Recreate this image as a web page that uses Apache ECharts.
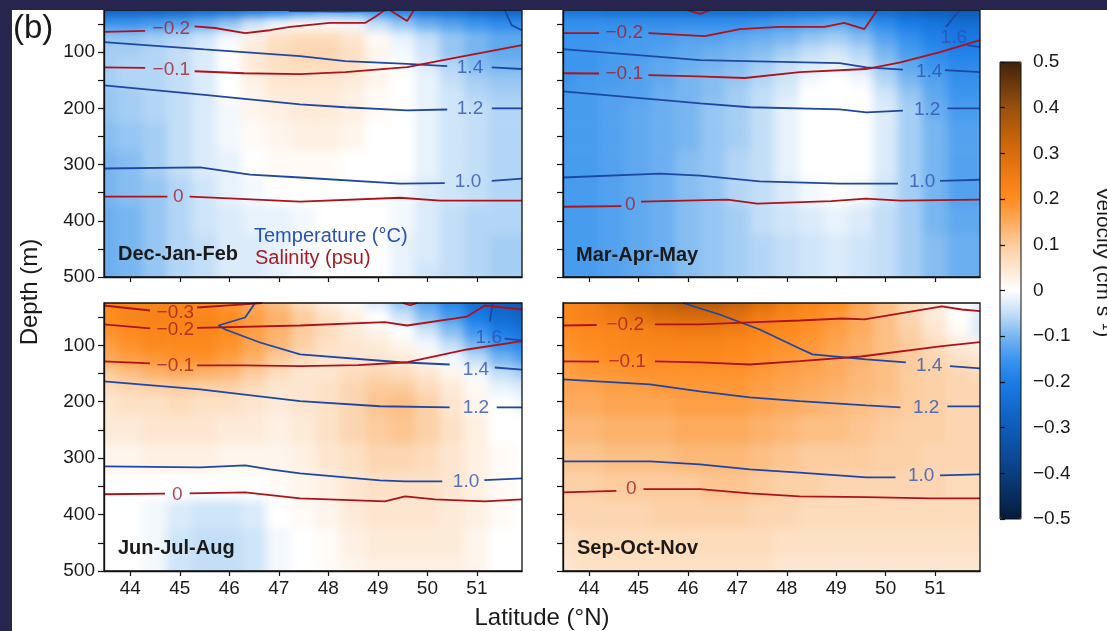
<!DOCTYPE html>
<html lang="en">
<head>
<meta charset="UTF-8">
<script src="https://cdn.jsdelivr.net/npm/echarts@6/dist/echarts.min.js"></script>
<title>Velocity sections</title>
<style>
  html, body { margin: 0; padding: 0; background: #fff; }
  #main { width: 1107px; height: 631px; }
</style>
</head>
<body>
<div id="main"></div>
<script>
  // grid of the velocity field (cell centres)
  const lats = [43.5, 44, 44.5, 45, 45.5, 46, 46.5, 47, 47.5, 48, 48.5, 49, 49.5, 50, 50.5, 51, 51.5, 52]
  const depths = [25, 50, 75, 100, 125, 150, 175, 200, 250, 300, 350, 400, 450, 500]
  const latTicks = [44, 45, 46, 47, 48, 49, 50, 51]
  const depthTicks = [50, 100, 150, 200, 250, 300, 350, 400, 450, 500]
  const depthLabels = [100, 200, 300, 400, 500]
  const velTicks = [-0.5, -0.4, -0.3, -0.2, -0.1, 0, 0.1, 0.2, 0.3, 0.4, 0.5]
  const seasons = ['Dec-Jan-Feb', 'Mar-Apr-May', 'Jun-Jul-Aug', 'Sep-Oct-Nov']

  const velDJF = [
    [-.28,-.28,-.28,-.27,-.26,-.25,-.23,-.2,-.16,-.13,-.14,-.17,-.2,-.23,-.25,-.27,-.28,-.28],
    [-.15,-.15,-.14,-.13,-.11,-.08,-.04,-.01,.01,.01,-.01,-.05,-.08,-.11,-.13,-.15,-.17,-.17],
    [-.08,-.08,-.07,-.06,-.04,-.01,.03,.06,.07,.07,.05,.01,-.02,-.05,-.08,-.1,-.12,-.12],
    [-.07,-.07,-.06,-.05,-.03,0,.04,.07,.08,.08,.06,.02,-.01,-.04,-.08,-.1,-.12,-.12],
    [-.07,-.06,-.06,-.05,-.03,0,.04,.06,.07,.07,.06,.02,0,-.03,-.06,-.09,-.1,-.1],
    [-.07,-.06,-.06,-.05,-.03,0,.03,.05,.05,.05,.04,.02,0,-.02,-.05,-.07,-.08,-.08],
    [-.08,-.07,-.06,-.05,-.03,0,.02,.04,.04,.04,.03,.01,0,-.02,-.04,-.06,-.07,-.07],
    [-.08,-.07,-.06,-.05,-.03,-.01,.02,.03,.04,.04,.03,.01,0,-.02,-.04,-.05,-.06,-.06],
    [-.09,-.08,-.07,-.05,-.03,-.01,.01,.02,.03,.03,.02,0,0,-.02,-.04,-.05,-.06,-.06],
    [-.1,-.09,-.07,-.05,-.03,-.02,0,.01,.01,.01,0,0,0,-.02,-.04,-.05,-.06,-.06],
    [-.1,-.09,-.08,-.06,-.04,-.02,-.01,0,0,0,0,0,-.01,-.03,-.04,-.05,-.06,-.06],
    [-.11,-.1,-.08,-.06,-.04,-.03,-.02,-.02,-.01,0,0,0,-.01,-.03,-.05,-.06,-.06,-.06],
    [-.11,-.1,-.08,-.06,-.05,-.03,-.03,-.02,-.01,0,0,0,-.02,-.03,-.05,-.06,-.07,-.07],
    [-.11,-.1,-.08,-.06,-.05,-.03,-.03,-.02,-.01,0,0,0,-.02,-.04,-.05,-.06,-.07,-.07]
  ]
  const velMAM = [
    [-.23,-.23,-.24,-.24,-.25,-.25,-.26,-.26,-.25,-.24,-.23,-.23,-.24,-.26,-.28,-.3,-.31,-.31],
    [-.16,-.16,-.16,-.16,-.16,-.16,-.16,-.16,-.15,-.14,-.13,-.12,-.14,-.17,-.2,-.22,-.24,-.24],
    [-.15,-.15,-.15,-.14,-.14,-.13,-.13,-.12,-.11,-.1,-.08,-.07,-.09,-.13,-.16,-.19,-.21,-.21],
    [-.15,-.15,-.14,-.14,-.13,-.12,-.11,-.1,-.09,-.07,-.05,-.04,-.06,-.1,-.14,-.17,-.19,-.19],
    [-.15,-.15,-.14,-.13,-.12,-.11,-.1,-.09,-.07,-.05,-.03,-.02,-.04,-.08,-.12,-.15,-.17,-.17],
    [-.15,-.14,-.14,-.13,-.12,-.1,-.09,-.08,-.06,-.04,-.01,0,-.01,-.06,-.1,-.13,-.16,-.16],
    [-.14,-.14,-.13,-.13,-.11,-.1,-.09,-.07,-.05,-.03,0,0,0,-.04,-.08,-.12,-.15,-.15],
    [-.14,-.14,-.13,-.12,-.11,-.1,-.08,-.07,-.05,-.02,0,0,0,-.03,-.07,-.11,-.14,-.14],
    [-.14,-.14,-.13,-.12,-.11,-.1,-.08,-.07,-.05,-.02,0,0,0,-.03,-.07,-.1,-.13,-.13],
    [-.14,-.14,-.13,-.12,-.11,-.09,-.08,-.06,-.05,-.02,0,0,0,-.03,-.07,-.1,-.13,-.13],
    [-.14,-.14,-.13,-.12,-.11,-.09,-.08,-.06,-.05,-.03,-.01,0,-.01,-.04,-.07,-.1,-.13,-.13],
    [-.14,-.14,-.13,-.12,-.11,-.09,-.08,-.07,-.05,-.04,-.03,-.02,-.03,-.05,-.07,-.1,-.12,-.12],
    [-.14,-.14,-.13,-.12,-.11,-.09,-.08,-.07,-.06,-.05,-.04,-.03,-.04,-.05,-.07,-.09,-.11,-.11],
    [-.14,-.14,-.13,-.12,-.11,-.09,-.08,-.07,-.06,-.05,-.04,-.03,-.04,-.05,-.07,-.09,-.11,-.11]
  ]
  const velJJA = [
    [.2,.22,.22,.22,.2,.18,.15,.12,.07,.03,.01,-.03,-.08,-.13,-.18,-.24,-.28,-.3],
    [.2,.22,.23,.23,.22,.2,.17,.14,.1,.06,.03,0,-.04,-.09,-.14,-.2,-.25,-.27],
    [.19,.21,.22,.22,.22,.2,.17,.14,.1,.07,.04,.02,0,-.04,-.09,-.15,-.2,-.23],
    [.17,.19,.21,.21,.21,.19,.16,.13,.09,.06,.05,.04,.02,-.01,-.05,-.1,-.15,-.18],
    [.15,.17,.18,.19,.19,.17,.14,.1,.07,.05,.05,.05,.04,.02,-.01,-.05,-.1,-.13],
    [.1,.12,.14,.15,.14,.13,.1,.07,.05,.05,.07,.08,.07,.05,.02,-.01,-.05,-.07],
    [.07,.08,.09,.1,.09,.09,.07,.05,.05,.06,.08,.1,.1,.07,.04,.01,-.02,-.03],
    [.05,.06,.06,.07,.06,.06,.05,.04,.05,.06,.08,.11,.12,.09,.05,.02,0,-.01],
    [.04,.04,.05,.05,.05,.04,.04,.03,.04,.06,.08,.1,.11,.09,.06,.03,0,0],
    [.02,.02,.03,.03,.03,.02,.02,.02,.03,.05,.06,.08,.08,.07,.05,.03,.01,0],
    [0,0,0,0,0,0,0,.01,.02,.03,.05,.06,.06,.06,.05,.03,.01,0],
    [0,0,-.01,-.03,-.04,-.04,-.03,0,.01,.02,.04,.05,.05,.05,.04,.03,.01,0],
    [0,0,-.01,-.04,-.05,-.05,-.04,-.01,0,.01,.03,.04,.04,.04,.04,.02,0,0],
    [0,0,-.01,-.04,-.05,-.05,-.04,-.01,0,.01,.02,.03,.03,.03,.03,.02,0,0]
  ]
  const velSON = [
    [.21,.23,.27,.31,.34,.36,.36,.33,.29,.25,.22,.2,.16,.12,.08,.04,0,-.02],
    [.21,.23,.25,.27,.29,.3,.3,.28,.25,.22,.2,.18,.15,.12,.08,.04,0,-.03],
    [.2,.21,.22,.23,.24,.25,.25,.24,.22,.21,.19,.17,.15,.12,.09,.05,.01,-.03],
    [.19,.2,.21,.22,.22,.22,.22,.21,.2,.19,.18,.16,.14,.12,.1,.07,.04,.02],
    [.18,.19,.2,.2,.21,.21,.21,.2,.19,.18,.17,.15,.14,.12,.1,.08,.06,.05],
    [.17,.18,.18,.19,.19,.19,.19,.19,.18,.17,.16,.15,.13,.12,.1,.09,.08,.07],
    [.16,.16,.17,.17,.18,.18,.18,.18,.17,.16,.15,.14,.13,.12,.1,.09,.08,.08],
    [.15,.15,.16,.16,.16,.17,.17,.17,.16,.15,.14,.13,.12,.11,.1,.09,.08,.08],
    [.13,.13,.14,.14,.14,.15,.15,.15,.14,.13,.12,.12,.11,.1,.09,.09,.08,.08],
    [.11,.11,.12,.12,.12,.13,.13,.13,.12,.11,.1,.1,.1,.09,.09,.08,.08,.08],
    [.09,.09,.1,.1,.1,.1,.11,.11,.1,.09,.09,.08,.08,.08,.08,.08,.07,.07],
    [.08,.08,.08,.08,.09,.09,.09,.09,.08,.08,.07,.07,.07,.07,.07,.07,.07,.07],
    [.06,.07,.07,.07,.07,.07,.07,.07,.07,.06,.06,.06,.06,.06,.06,.06,.06,.06],
    [.05,.06,.06,.06,.06,.06,.06,.06,.06,.05,.05,.05,.05,.05,.05,.05,.05,.05]
  ]

  // contour lines as [lat, depth] points, null = gap left for the label
  const tempDJF = [
    [[47.2,27],[48.2,28],[49,27],[49.2,25]],
    [[51.56,25],[51.7,52],[51.91,61]],
    [[43.47,82],[45.5,95],[47.43,107],[48.34,116],[49.59,121],[50.4,125],null,[51.3,127],[51.91,130]],
    [[43.47,159],[45.5,176],[47.43,193],[48.34,198],[49.59,203.6],[50.4,202],null,[51.3,200],[51.91,200]],
    [[43.47,307],[45.41,305],[46.42,318],[47.43,323],[49.45,334],[50.35,333],null,[51.3,329],[51.91,325]]
  ]
  const salDJF = [
    [[43.47,64],[44.3,62],null,[45.3,54],[45.71,57],[46.32,66],[46.82,61],[47.23,55],[48.03,48],[48.74,48],[48.94,37.5],[49.14,25]],
    [[49.24,25],[49.59,44.6],[49.73,25]],
    [[43.47,127],[44.3,128],null,[45.3,134],[46.3,137.5],[47.43,139],[48.34,135.7],[49.59,126.8],[50.5,111],[51.91,87.5]],
    [[43.47,357],[44.75,357],null,[45.2,357],[46,360],[47.43,366],[49.45,359],[50.26,364],[51.91,364]]
  ]
  const tempLabDJF = [[50.86,127,1.4],[50.86,201,1.2],[50.82,331,1.0]]
  const salLabDJF = [[44.83,58,-0.2],[44.83,131,-0.1],[44.97,357,0]]

  const tempMAM = [
    [[51.5,25],[51.22,55],null,[51.65,87.5],[51.91,91]],
    [[43.47,94.6],[46.25,114],[49.07,119.6],[49.61,127],[50.35,131],null,[51.2,132],[51.91,135.7]],
    [[43.47,169.6],[46.25,191],[47.25,198],[49.07,201.8],[49.61,207],[50.35,204],null,[51.25,200],[51.91,200]],
    [[43.47,323],[45.43,316],[46.25,319.6],[47.45,330],[49.07,334],[50.25,334],null,[51.1,329],[51.91,327]]
  ]
  const salMAM = [
    [[43.47,66],[44.2,66],null,[45.2,66],[46.34,71.4],[47.05,59],[47.85,55],[48.76,55],[49.16,48],[49.57,59],[49.83,25]],
    [[45.97,25],[46.25,32],[46.44,25]],
    [[43.47,137.5],[44.2,138],null,[45.2,141],[46.2,143],[47.15,146],[48.26,135.7],[49.6,130],[50.3,118],[51.1,100],[51.91,78.6]],
    [[43.47,375],[44.65,374],null,[45.05,366],[46.8,362.5],[47.4,369.6],[48.9,365],[49.6,360.7],[50.3,364],[51.91,362.5]]
  ]
  const tempLabMAM = [[51.38,75,1.6],[50.88,134,1.4],[50.84,202,1.2],[50.74,330,1.0]]
  const salLabMAM = [[44.71,66,-0.2],[44.71,138,-0.1],[44.83,371,0]]

  const tempJJA = [
    [[51.32,25],[51.26,58],null,[51.56,88],[51.91,91.4]],
    [[46.52,25],[46.32,50.7],[45.78,64.9],[45.92,72],[46.62,95],[47.43,116],[49.45,130],[50.45,134],null,[51.36,139.3],[51.91,143]],
    [[43.47,164],[45.41,178],[47.43,199],[49.04,208],[50.45,210],null,[51.4,210],[51.91,210]],
    [[43.47,314.6],[45.41,316.4],[46.32,312.8],[46.82,320],[47.43,327],[49.04,339.4],[49.55,341],[50.3,341],null,[51.15,339],[51.91,336]]
  ]
  const salJJA = [
    [[43.47,29.4],[44.4,38.3],null,[45.35,33],[46.22,27.7],[46.66,25]],
    [[43.47,63],[44.4,70],null,[45.35,69],[47.43,64.9],[49.14,59],[49.59,64.9],[50.8,49],[51.16,29.4],[51.91,36.5]],
    [[49.5,25],[49.65,29],[49.8,25]],
    [[43.47,128.6],[44.4,132],null,[45.35,135.7],[46.3,135.7],[47.43,137],[48.6,135],[49.6,130],[50.8,107.4],[51.91,92.7]],
    [[43.47,364],[44.7,363],null,[45.2,362.5],[46.32,360.7],[47.43,371.3],[49.14,376.6],[49.55,367.8],[50.15,373],[51.16,376.6],[51.91,373]]
  ]
  const tempLabJJA = [[51.24,86,1.6],[50.98,143,1.4],[50.98,210,1.2],[50.78,341,1.0]]
  const salLabJJA = [[44.91,42,-0.3],[44.91,73,-0.2],[44.91,137,-0.1],[44.95,364,0]]

  const tempSON = [
    [[45.9,25],[46.64,45.4],[47.45,72],[48.26,105.6],[48.52,116],[49.61,125],[50.41,130.4],null,[51.3,137],[51.91,141]],
    [[43.47,160.5],[45.23,169.4],[46.24,181.8],[47.25,192.4],[48.26,199],[49.61,206.6],[50.3,210],null,[51.25,208.3],[51.91,208.3]],
    [[43.47,305.8],[45.23,305.8],[46.24,311],[47.25,320],[48.26,325.8],[49.61,334],[50.2,334],null,[51.1,330.6],[51.91,328.8]]
  ]
  const salSON = [
    [[43.47,64.9],[44.15,64],null,[45.33,63],[46.24,63],[47.25,59.5],[48.26,56],[49.12,52.5],[49.57,54.2],[51.14,31],[51.54,36.5],[51.91,39.5]],
    [[43.47,128.6],[44.2,129],null,[45.33,128.6],[46.24,130.4],[47.25,134],[48.26,128],[49.5,119.8],[51.14,101.5],[51.91,94.4]],
    [[43.47,360.7],[44.55,358],null,[45.1,355],[46.24,355],[47.25,362.5],[48.26,367.8],[49.61,369],[50.9,371.3],[51.91,371.3]]
  ]
  const tempLabSON = [[50.88,136,1.4],[50.82,210,1.2],[50.72,332,1.0]]
  const salLabSON = [[44.73,63,-0.2],[44.77,129,-0.1],[44.85,355,0]]

  const FONT = '"Liberation Sans", Arial, sans-serif'
  const INK = '#111'
  const NAVY = '#27254d'
  const TEMP_LINE = '#1f47a2'
  const SAL_LINE = '#ad121b'
  const TEMP_TEXT = '#2b52b3'
  const SAL_TEXT = '#a51d24'
  const cmap = ['#051b38', '#082d5e', '#0a3e80', '#0c4d9e', '#0e5cb8', '#136cd0', '#1a7ce6', '#3c95ee',
    '#78b6f0', '#c3def7', '#ffffff', '#fde6d0', '#fccc9e', '#fcab5e', '#ff8c20', '#f07c14', '#d96c0c',
    '#bb5e0c', '#98500e', '#6e3a0c', '#40220a']

  const panels = [
    { vel: velDJF, temp: tempDJF, sal: salDJF, tLab: tempLabDJF, sLab: salLabDJF },
    { vel: velMAM, temp: tempMAM, sal: salMAM, tLab: tempLabMAM, sLab: salLabMAM },
    { vel: velJJA, temp: tempJJA, sal: salJJA, tLab: tempLabJJA, sLab: salLabJJA },
    { vel: velSON, temp: tempSON, sal: salSON, tLab: tempLabSON, sLab: salLabSON }
  ]
  const boxes = [
    { left: 104, top: 10, width: 418, height: 267 },
    { left: 563, top: 10, width: 417, height: 267 },
    { left: 104, top: 303, width: 418, height: 268 },
    { left: 563, top: 303, width: 417, height: 268 }
  ]

  // the velocity cells live alone on canvas layer zr_0: soften it like a contourf and cut it to the panels
  const clip = boxes.map((b) => `M${b.left} ${b.top}H${b.left + b.width}V${b.top + b.height}H${b.left}Z`).join(' ')
  const css = document.createElement('style')
  css.textContent = `#main canvas[data-zr-dom-id="zr_0"]{filter:blur(5px);clip-path:path('${clip}');}`
  document.head.appendChild(css)

  function fmt(v) {
    if (Math.abs(v) < 1e-9) return '0'
    return (v < 0 ? '\u2212' : '') + Math.abs(v).toFixed(1)
  }

  function renderCell(params, api) {
    const a = api.coord([api.value(3), api.value(5)])
    const b = api.coord([api.value(4), api.value(6)])
    return {
      type: 'rect',
      shape: {
        x: Math.min(a[0], b[0]) - 0.3,
        y: Math.min(a[1], b[1]) - 0.3,
        width: Math.abs(b[0] - a[0]) + 0.6,
        height: Math.abs(b[1] - a[1]) + 0.6
      },
      style: { fill: api.visual('color') }
    }
  }

  const series = []
  // filled velocity cells first (visualMap maps series 0..3)
  panels.forEach((p, i) => {
    const cells = []
    const n = depths.length
    depths.forEach((d, r) => {
      const d0 = r === 0 ? d - (depths[1] - d) : (depths[r - 1] + d) / 2
      const d1 = r === n - 1 ? d + (d - depths[n - 2]) : (d + depths[r + 1]) / 2
      lats.forEach((la, c) => {
        cells.push([la, d, p.vel[r][c], la - 0.25, la + 0.25, d0, d1])
      })
    })
    series.push({
      type: 'custom', xAxisIndex: i, yAxisIndex: i, data: cells, zlevel: 0,
      renderItem: renderCell, encode: { x: 0, y: 1 }, z: 1, silent: true
    })
  })

  function addLines(list, i, color) {
    list.forEach((pts) => {
      let seg = []
      pts.concat([null]).forEach((pt) => {
        if (pt) { seg.push(pt); return }
        if (seg.length > 1) {
          series.push({
            type: 'line', xAxisIndex: i, yAxisIndex: i, data: seg, symbol: 'none', zlevel: 1,
            lineStyle: { color: color, width: 1.8 }, z: 3, silent: true
          })
        }
        seg = []
      })
    })
  }
  function addLabels(list, i, color) {
    series.push({
      type: 'scatter', xAxisIndex: i, yAxisIndex: i, symbolSize: 0, z: 4, zlevel: 1, silent: true,
      data: list.map((e) => ({ value: [e[0], e[1]], name: fmt(e[2]) })),
      label: { show: true, position: 'inside', formatter: '{b}', color: color, fontSize: 19, fontFamily: FONT }
    })
  }
  panels.forEach((p, i) => {
    addLines(p.temp, i, TEMP_LINE)
    addLines(p.sal, i, SAL_LINE)
    addLabels(p.tLab, i, TEMP_TEXT)
    addLabels(p.sLab, i, SAL_TEXT)
  })

  const grid = boxes.map((b) => Object.assign({ show: true, borderColor: INK, borderWidth: 1.3, backgroundColor: 'transparent', z: 4, zlevel: 1 }, b))
  grid.push({ show: true, left: 1000, top: 62, width: 21, height: 457, borderColor: INK, borderWidth: 1, backgroundColor: 'transparent', z: 4, zlevel: 1 })

  const xAxis = boxes.map((b, i) => ({
    gridIndex: i, type: 'value', min: 43.47, max: 51.91, z: 5, zlevel: 1,
    axisLine: { show: true, onZero: false, lineStyle: { color: INK, width: 1.3 } },
    axisTick: { show: true, customValues: latTicks, length: 5, lineStyle: { color: INK, width: 1.2 } },
    axisLabel: { show: i >= 2, customValues: latTicks, fontSize: 19, color: '#1a1a1a', margin: 8, fontFamily: FONT },
    splitLine: { show: false }
  }))
  xAxis.push({ gridIndex: 4, type: 'value', show: false, zlevel: 1 })

  const yAxis = boxes.map((b, i) => ({
    gridIndex: i, type: 'value', min: 25, max: 500, inverse: true, z: 5, zlevel: 1,
    axisLine: { show: true, onZero: false, lineStyle: { color: INK, width: 1.3 } },
    axisTick: { show: true, customValues: depthTicks, length: 6, lineStyle: { color: INK, width: 1.2 } },
    axisLabel: { show: i % 2 === 0, customValues: depthLabels, fontSize: 19, color: '#1a1a1a', margin: 9, fontFamily: FONT },
    splitLine: { show: false }
  }))
  yAxis.push({
    gridIndex: 4, type: 'value', min: -0.5, max: 0.5, position: 'right', z: 5, zlevel: 1,
    axisLine: { show: false },
    axisTick: { show: true, customValues: velTicks, length: 5, lineStyle: { color: INK, width: 1.2 } },
    axisLabel: { customValues: velTicks, fontSize: 19, color: '#1a1a1a', margin: 12, fontFamily: FONT, formatter: fmt },
    splitLine: { show: false }
  })

  const txt = (x, y, text, opts) => ({
    type: 'text', x: x, y: y, z: 50, zlevel: 1, rotation: opts.rot || 0,
    style: {
      text: text, fill: opts.color || '#1a1a1a', fontSize: opts.size || 20, fontFamily: FONT,
      fontWeight: opts.bold ? 'bold' : 'normal', textAlign: opts.align || 'left', textVerticalAlign: 'middle'
    }
  })

  const graphic = [
    { type: 'rect', shape: { x: 0, y: 0, width: 1107, height: 10 }, style: { fill: NAVY }, z: 60, zlevel: 1 },
    { type: 'rect', shape: { x: 0, y: 0, width: 12, height: 631 }, style: { fill: NAVY }, z: 60, zlevel: 1 },
    txt(13, 29, '(b)', { size: 33 }),
    txt(30, 292, 'Depth (m)', { size: 24, align: 'center', rot: Math.PI / 2 }),
    txt(542, 618, 'Latitude (\u00b0N)', { size: 24, align: 'center' }),
    txt(1103, 262, 'Velocity (cm s\u207b\u00b9)', { size: 21, align: 'center', rot: -Math.PI / 2 }),
    txt(118, 254, seasons[0], { size: 20, bold: true }),
    txt(576, 255, seasons[1], { size: 20, bold: true }),
    txt(118, 548, seasons[2], { size: 20, bold: true }),
    txt(577, 548, seasons[3], { size: 20, bold: true }),
    txt(254, 236, 'Temperature (\u00b0C)', { size: 20, color: TEMP_TEXT }),
    txt(255, 258, 'Salinity (psu)', { size: 20, color: SAL_TEXT })
  ]

  const option = {
    backgroundColor: 'transparent',
    animation: false,
    grid: grid,
    xAxis: xAxis,
    yAxis: yAxis,
    visualMap: {
      type: 'continuous', min: -0.5, max: 0.5, dimension: 2, seriesIndex: [0, 1, 2, 3],
      inRange: { color: cmap }, calculable: false, hoverLink: false, orient: 'vertical',
      left: 1000, top: 62, itemWidth: 21, itemHeight: 457, padding: 0, text: null, z: 3, zlevel: 1
    },
    graphic: graphic,
    series: series
  }

  const chart = echarts.init(document.getElementById('main'), null, { renderer: 'canvas' })
  chart.setOption(option)
</script>
</body>
</html>
